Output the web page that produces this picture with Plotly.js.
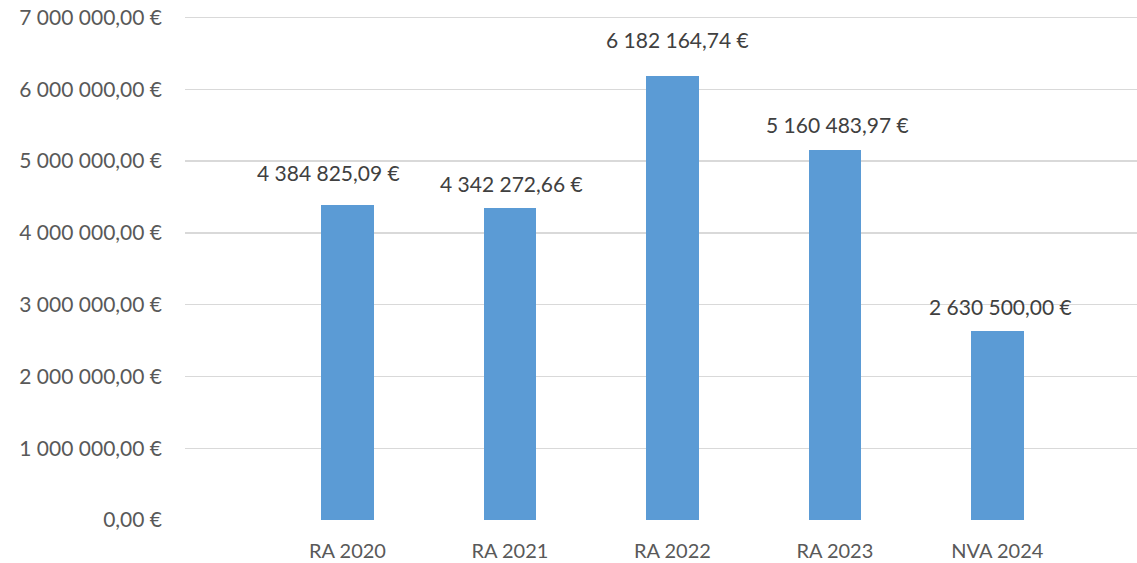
<!DOCTYPE html>
<html>
<head>
<meta charset="utf-8">
<script src="https://cdn.plot.ly/plotly-3.0.1.min.js"></script>
<style>html,body{margin:0;padding:0;background:#fff;}#chart{width:1137px;height:563px;}</style>
</head>
<body>
<div id="chart"></div>
<script>
// Data
const categories = ["RA 2020", "RA 2021", "RA 2022", "RA 2023", "NVA 2024"];
const amounts = [4384825.09, 4342272.66, 6182164.74, 5160483.97, 2630500.00];
const yTickValues = [0, 1000000, 2000000, 3000000, 4000000, 5000000, 6000000, 7000000];

// Label placement (pixels, as in the reference)
const labelDx = [-19, 2, 5, 3, 3];
const labelDy = [33, 25, 37, 25, 25];

function fmtEuro(v) {
  const parts = v.toFixed(2).split(".");
  const intPart = parts[0].replace(/\B(?=(\d{3})+(?!\d))/g, " ");
  return intPart + "," + parts[1] + " €";
}

const FONT = "Lato, 'Open Sans', sans-serif";

const trace = {
  type: "bar",
  x: categories,
  y: amounts,
  width: 0.323,
  marker: { color: "#5B9BD5", line: { width: 0 } },
  hoverinfo: "skip"
};

const annotations = categories.map((c, i) => ({
  x: c,
  y: amounts[i],
  xref: "x",
  yref: "y",
  text: fmtEuro(amounts[i]),
  showarrow: false,
  xanchor: "center",
  yanchor: "middle",
  xshift: labelDx[i],
  yshift: labelDy[i],
  font: { family: FONT, size: 21, color: "#404040" }
}));

const layout = {
  width: 1137,
  height: 563,
  margin: { l: 185, r: 0, t: 13.6, b: 42.5, pad: 0 },
  paper_bgcolor: "#ffffff",
  plot_bgcolor: "#ffffff",
  showlegend: false,
  bargap: 0,
  xaxis: {
    type: "category",
    categoryorder: "array",
    categoryarray: categories,
    range: [-1.0, 4.86],
    showgrid: false,
    showline: false,
    zeroline: false,
    ticks: "",
    ticklabelstandoff: 17,
    tickfont: { family: FONT, size: 20, color: "#595959" }
  },
  yaxis: {
    range: [0, 7050000],
    tickmode: "array",
    tickvals: yTickValues,
    ticktext: yTickValues.map(fmtEuro),
    showgrid: true,
    gridcolor: "#d9d9d9",
    gridwidth: 1.3,
    zeroline: false,
    showline: false,
    ticks: "",
    ticklabelstandoff: 22,
    tickfont: { family: FONT, size: 21, color: "#595959" }
  },
  annotations: annotations
};

Plotly.newPlot("chart", [trace], layout, { displayModeBar: false, staticPlot: true });
</script>
</body>
</html>
